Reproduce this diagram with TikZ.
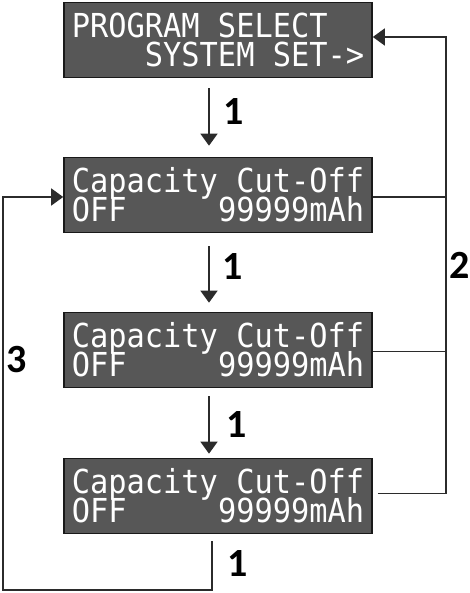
\documentclass[tikz,border=0pt]{standalone}
\usepackage{fontspec}
\usetikzlibrary{arrows.meta,positioning,calc}
\newfontfamily\lcdfont[FakeStretch=0.92]{DejaVu Sans Mono}
\newfontfamily\numfont{Carlito}
\definecolor{lcdgray}{HTML}{575757}
\definecolor{wirecol}{HTML}{2B2B2B}

\begin{document}
\begin{tikzpicture}[x=1pt, y=1pt, >={Triangle[length=12pt,width=17pt]},
  lcd/.style={draw=black!90, line width=1.6pt, fill=lcdgray, text=white,
    minimum width=308pt, minimum height=75pt, inner sep=0pt, align=left,
    font=\lcdfont\fontsize{33}{29}\selectfont,
    execute at begin node={\setlength{\lineskiplimit}{-50pt}}},
  num/.style={font=\numfont\bfseries\fontsize{40}{40}\selectfont, inner sep=1pt},
  wire/.style={line width=1.5pt, draw=wirecol}]
  \useasboundingbox (0,0) rectangle (470,593);
  % Display screens
  \node[lcd] (prog) at (218,553) {PROGRAM SELECT\\\phantom{0000}SYSTEM SET->};
  \node[lcd, below=78.4pt of prog] (cut1) {Capacity Cut-Off\\OFF\phantom{00000}99999mAh};
  \node[lcd, below=78.4pt of cut1] (cut2) {Capacity Cut-Off\\OFF\phantom{00000}99999mAh};
  \node[lcd, below=69.4pt of cut2] (cut3) {Capacity Cut-Off\\OFF\phantom{00000}99999mAh};
  % Key 1 steps down the list
  \draw[wire,->] ([xshift=-9pt,yshift=-10pt]prog.south) -- node[num, right=13pt, yshift=5pt] {1} ([xshift=-9pt,yshift=11pt]cut1.north);
  \draw[wire,->] ([xshift=-9pt,yshift=-13pt]cut1.south) -- node[num, right=12pt, yshift=7.5pt] {1} ([xshift=-9pt,yshift=9pt]cut2.north);
  \draw[wire,->] ([xshift=-9pt,yshift=-8pt]cut2.south) -- node[num, right=16pt] {1} ([xshift=-9pt,yshift=4pt]cut3.north);
  % Key 2 goes back to the program select screen
  \coordinate (rbus) at ([xshift=73pt]cut3.east);
  \draw[wire,->] ([xshift=5pt,yshift=2.5pt]cut3.east) -- ([yshift=2.5pt]rbus) |- node[num, pos=0.25, right=2pt] {2} ([yshift=3pt]prog.east);
  \draw[wire] ([yshift=-2pt]cut1.east) -- ([yshift=-2pt]cut1.east -| rbus);
  \draw[wire] ([yshift=-1.5pt]cut2.east) -- ([yshift=-1.5pt]cut2.east -| rbus);
  % Key 1 on the last screen and key 3 loop to the first one
  \coordinate (lbus) at (3,3);
  \draw[wire,->] ([xshift=-6pt,yshift=-7pt]cut3.south) |- node[num, pos=0.25, right=14pt, yshift=2.5pt] {1} (lbus)
    |- node[num, pos=0.293, right=2pt] {3} ([yshift=-2pt]cut1.west);
\end{tikzpicture}
\end{document}
